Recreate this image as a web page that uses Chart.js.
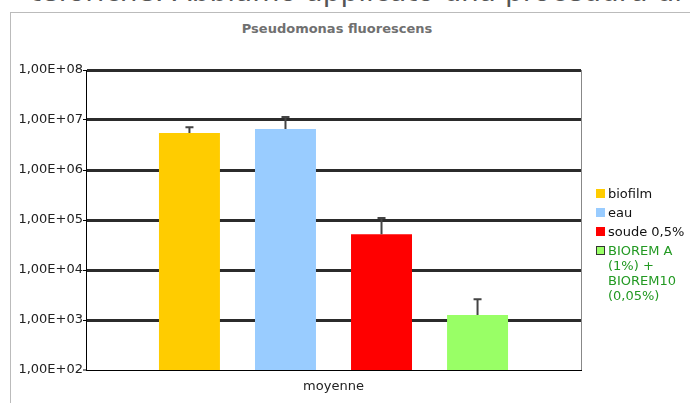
<!DOCTYPE html>
<html lang="it">
<head>
  <meta charset="UTF-8" />
  <title>Pseudomonas fluorescens</title>
  <script src="https://cdn.jsdelivr.net/npm/chart.js"></script>
  <style>
    body {
      margin: 0;
      width: 690px;
      height: 403px;
      overflow: hidden;
      background: #fff;
      font-family: "DejaVu Sans", sans-serif;
      position: relative;
    }
    #toptext {
      position: absolute;
      left: 0;
      top: -22px;
      width: 682px;
      font-size: 28px;
      line-height: 28px;
      color: #555;
      white-space: nowrap;
      text-align: right;
    }
    #frame {
      position: absolute;
      left: 10px;
      top: 12px;
      width: 690px;
      height: 400px;
      border-top: 1px solid #bbb;
      border-left: 1px solid #bbb;
    }
    #title {
      position: absolute;
      left: 237px;
      top: 21px;
      width: 200px;
      text-align: center;
      font-weight: bold;
      font-size: 13px;
      color: #707070;
      white-space: nowrap;
    }
    canvas { position: absolute; left: 0; top: 0; }
    #legend {
      position: absolute;
      left: 596px;
      top: 186px;
      font-size: 13px;
      line-height: 15px;
    }
    .item { display: flex; align-items: flex-start; margin-bottom: 4px; }
    .box { width: 9px; height: 9px; margin-top: 3px; margin-right: 3px; flex: none; box-sizing: border-box; }
    .txt { width: 80px; }
  </style>
</head>
<body>
  <div id="toptext">teforicne. Abbiamo applicato una procedura di</div>
  <div id="frame"></div>
  <div id="title">Pseudomonas fluorescens</div>
  <canvas id="chart" width="690" height="403"></canvas>
  <div id="legend"></div>

  <script>
    const categories = ['moyenne'];
    const seriesNames = ['biofilm', 'eau', 'soude 0,5%', 'BIOREM A (1%) + BIOREM10 (0,05%)'];
    const seriesValues = [[5.5e6], [6.6e6], [5.2e4], [1.26e3]];
    const errorTops = [[7.2e6], [1.15e7], [1.1e5], [2.6e3]];
    const seriesColors = ['#ffcc00', '#99ccff', '#ff0000', '#99ff66'];
    const legendTextColors = ['#111', '#111', '#111', '#229922'];
    const yTicks = [1e2, 1e3, 1e4, 1e5, 1e6, 1e7, 1e8];
    const yTickLabels = ['1,00E+02', '1,00E+03', '1,00E+04', '1,00E+05', '1,00E+06', '1,00E+07', '1,00E+08'];

    // legende html
    document.getElementById('legend').innerHTML = seriesNames.map((name, i) => {
      const border = i === 3 ? 'border:1px solid #333;' : '';
      return `<div class="item"><span class="box" style="background:${seriesColors[i]};${border}"></span>` +
             `<span class="txt" style="color:${legendTextColors[i]}">${name}</span></div>`;
    }).join('');

    const errorBars = {
      id: 'errorBars',
      afterDatasetsDraw(chart) {
        const ctx = chart.ctx;
        const y = chart.scales.y;
        ctx.save();
        chart.data.datasets.forEach((ds, i) => {
          chart.getDatasetMeta(i).data.forEach((bar, j) => {
            const top = y.getPixelForValue(errorTops[i][j]);
            ctx.strokeStyle = '#444';
            ctx.lineWidth = 2;
            ctx.beginPath();
            ctx.moveTo(bar.x, bar.y);
            ctx.lineTo(bar.x, top);
            ctx.moveTo(bar.x - 4, top);
            ctx.lineTo(bar.x + 4, top);
            ctx.stroke();
          });
        });
        ctx.restore();
      }
    };

    const rightBorder = {
      id: 'rightBorder',
      beforeDatasetsDraw(chart) {
        const a = chart.chartArea;
        const ctx = chart.ctx;
        ctx.save();
        ctx.strokeStyle = '#888';
        ctx.lineWidth = 1;
        ctx.beginPath();
        ctx.moveTo(a.right + 0.5, a.top);
        ctx.lineTo(a.right + 0.5, a.bottom);
        ctx.stroke();
        ctx.restore();
      }
    };

    new Chart(document.getElementById('chart'), {
      type: 'bar',
      data: {
        labels: categories,
        datasets: seriesNames.map((name, i) => ({
          label: name,
          data: seriesValues[i],
          backgroundColor: seriesColors[i],
          categoryPercentage: 0.776,
          barPercentage: 0.635
        }))
      },
      options: {
        responsive: false,
        animation: false,
        devicePixelRatio: 1,
        layout: { padding: { top: 70, right: 109, left: 0, bottom: 0 } },
        plugins: {
          legend: { display: false },
          tooltip: { enabled: false }
        },
        scales: {
          x: {
            grid: { display: false, drawTicks: false },
            border: { display: true, color: '#000', width: 1 },
            ticks: { color: '#222', font: { family: 'DejaVu Sans', size: 13 }, padding: 9 },
            afterFit: s => { s.height = 33; }
          },
          y: {
            type: 'logarithmic',
            min: 1e2,
            max: 1e8,
            afterBuildTicks: s => { s.ticks = yTicks.map(v => ({ value: v })); },
            afterFit: s => { s.width = 86; },
            ticks: {
              color: '#222',
              font: { family: 'DejaVu Sans', size: 13 },
              padding: 0,
              callback: (v, i) => yTickLabels[i]
            },
            grid: {
              color: '#2b2b2b',
              lineWidth: c => (c.tick && c.tick.value === 1e2 ? 0 : 3),
              tickLength: 3,
              tickWidth: 1,
              tickColor: '#000'
            },
            border: { display: true, color: '#000', width: 1 }
          }
        }
      },
      plugins: [errorBars, rightBorder]
    });
  </script>
</body>
</html>
